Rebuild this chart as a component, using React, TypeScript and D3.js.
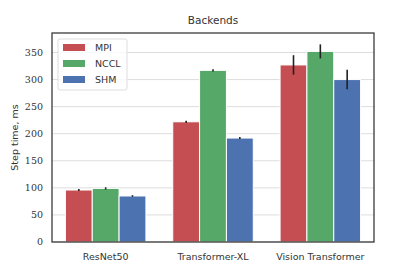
import { useEffect, useRef } from "react";
import * as d3 from "d3";

const categories = ["ResNet50", "Transformer-XL", "Vision Transformer"];
const backends = ["MPI", "NCCL", "SHM"];
const mpiValues = [96, 222, 327];
const ncclValues = [99, 317, 352];
const shmValues = [85, 192, 300];
const mpiErr = [2, 2, 18];
const ncclErr = [2, 2, 13];
const shmErr = [1.5, 2, 18];
const yTicks = [0, 50, 100, 150, 200, 250, 300, 350];
const colors = ["#C44E52", "#55A868", "#4C72B0"];

const W = 415;
const H = 277;
const MARGIN = { top: 33, right: 41, bottom: 35, left: 52 };

function App() {
  const svgRef = useRef<SVGSVGElement>(null);

  useEffect(() => {
    const svg = svgRef.current;
    if (!svg) return;
    d3.select(svg).selectAll("*").remove();

    const width = W - MARGIN.left - MARGIN.right;
    const height = H - MARGIN.top - MARGIN.bottom;

    const root = d3
      .select(svg)
      .append("g")
      .attr("transform", `translate(${MARGIN.left},${MARGIN.top})`);

    const x = d3.scaleLinear().domain([-0.5, 2.5]).range([0, width]);
    const y = d3.scaleLinear().domain([0, 386]).range([height, 0]);

    // Grid lines
    root
      .append("g")
      .selectAll("line")
      .data(yTicks)
      .join("line")
      .attr("x1", 0)
      .attr("x2", width)
      .attr("y1", (d) => y(d))
      .attr("y2", (d) => y(d))
      .attr("stroke", "#dddddd")
      .attr("stroke-width", 1);

    const series = [mpiValues, ncclValues, shmValues];
    const errs = [mpiErr, ncclErr, shmErr];
    const barW = 0.25;

    series.forEach((vals, s) => {
      const offset = (s - 1) * barW;
      const g = root.append("g");
      g.selectAll("rect")
        .data(vals)
        .join("rect")
        .attr("x", (_, i) => x(i + offset - barW / 2))
        .attr("y", (d) => y(d))
        .attr("width", x(barW) - x(0))
        .attr("height", (d) => height - y(d))
        .attr("fill", colors[s])
        .attr("stroke", "#ffffff")
        .attr("stroke-width", 1);
      g.selectAll("line")
        .data(vals)
        .join("line")
        .attr("x1", (_, i) => x(i + offset))
        .attr("x2", (_, i) => x(i + offset))
        .attr("y1", (d, i) => y(d - errs[s][i]))
        .attr("y2", (d, i) => y(d + errs[s][i]))
        .attr("stroke", "#222222")
        .attr("stroke-width", 1.6);
    });

    // Frame
    root
      .append("rect")
      .attr("width", width)
      .attr("height", height)
      .attr("fill", "none")
      .attr("stroke", "#333333")
      .attr("stroke-width", 1.25);

    // Y tick labels
    root
      .append("g")
      .selectAll("text")
      .data(yTicks)
      .join("text")
      .attr("x", -9)
      .attr("y", (d) => y(d))
      .attr("dy", "0.35em")
      .attr("text-anchor", "end")
      .attr("font-family", "DejaVu Serif")
      .attr("font-size", "9.5px")
      .attr("fill", "#333333")
      .text((d) => String(d));

    // X tick labels
    root
      .append("g")
      .selectAll("text")
      .data(categories)
      .join("text")
      .attr("x", (_, i) => x(i))
      .attr("y", height + 18)
      .attr("text-anchor", "middle")
      .attr("font-family", "DejaVu Sans")
      .attr("font-size", "9.5px")
      .attr("fill", "#333333")
      .text((d) => d);

    // Y label
    root
      .append("text")
      .attr("transform", "rotate(-90)")
      .attr("x", -height / 2)
      .attr("y", -MARGIN.left + 18)
      .attr("text-anchor", "middle")
      .attr("font-family", "DejaVu Sans")
      .attr("font-size", "9.5px")
      .attr("fill", "#333333")
      .text("Step time, ms");

    // Title
    root
      .append("text")
      .attr("x", width / 2)
      .attr("y", -9)
      .attr("text-anchor", "middle")
      .attr("font-family", "DejaVu Sans")
      .attr("font-size", "10.5px")
      .attr("fill", "#333333")
      .text("Backends");

    // Legend
    const legend = root.append("g").attr("transform", "translate(6,6)");
    legend
      .append("rect")
      .attr("width", 69)
      .attr("height", 51)
      .attr("rx", 2)
      .attr("fill", "#ffffff")
      .attr("fill-opacity", 0.8)
      .attr("stroke", "#dddddd");
    backends.forEach((b, i) => {
      legend
        .append("rect")
        .attr("x", 5)
        .attr("y", 5 + i * 16)
        .attr("width", 22)
        .attr("height", 7)
        .attr("fill", colors[i]);
      legend
        .append("text")
        .attr("x", 37)
        .attr("y", 9 + i * 16)
        .attr("dy", "0.35em")
        .attr("font-family", "DejaVu Sans")
        .attr("font-size", "9.5px")
        .attr("fill", "#333333")
        .text(b);
    });
  }, []);

  return (
    <div style={{ position: "absolute", left: 0, top: 0, width: W, height: H, background: "#fff" }}>
      <svg ref={svgRef} width={W} height={H} />
    </div>
  );
}

export default App;
